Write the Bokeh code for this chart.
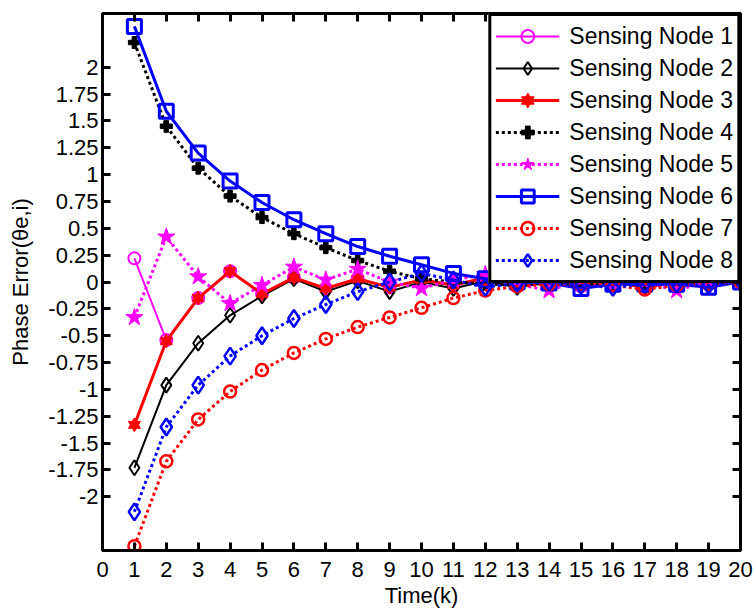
from bokeh.plotting import figure
from bokeh.models import Range1d, FixedTicker, LinearAxis, Legend, LegendItem
from bokeh.embed import file_html
from bokeh.resources import INLINE

# ---- data ----
time_k = list(range(1, 21))
node1 = [0.22, -0.54, -0.15, 0.10, -0.11, 0.04, -0.06, 0.03, -0.05, 0.02, -0.03, 0.03, -0.03, 0.01, -0.04, 0.01, -0.04, 0.00, -0.02, 0.01]
node2 = [-1.73, -0.96, -0.57, -0.31, -0.13, 0.03, -0.09, 0.01, -0.09, 0.00, -0.06, 0.01, -0.05, 0.00, -0.04, 0.00, -0.05, 0.00, -0.03, 0.00]
node3 = [-1.33, -0.55, -0.15, 0.10, -0.11, 0.04, -0.06, 0.03, -0.05, 0.02, -0.03, 0.04, -0.02, 0.01, -0.04, 0.02, -0.06, 0.01, -0.02, 0.02]
node4 = [2.23, 1.45, 1.06, 0.80, 0.60, 0.45, 0.32, 0.20, 0.10, 0.03, 0.00, -0.02, -0.03, -0.01, -0.03, -0.01, -0.02, 0.00, -0.02, 0.00]
node5 = [-0.33, 0.42, 0.05, -0.20, -0.03, 0.14, 0.02, 0.12, 0.00, -0.06, 0.02, 0.07, -0.02, -0.08, 0.02, -0.02, 0.00, -0.08, 0.01, 0.04]
node6 = [2.38, 1.59, 1.20, 0.94, 0.74, 0.58, 0.45, 0.33, 0.24, 0.16, 0.08, 0.03, 0.00, -0.01, -0.06, -0.02, -0.02, -0.02, -0.05, 0.00]
node7 = [-2.46, -1.67, -1.28, -1.02, -0.82, -0.66, -0.53, -0.42, -0.33, -0.24, -0.15, -0.08, -0.04, -0.02, -0.02, -0.03, -0.07, -0.03, -0.02, 0.00]
node8 = [-2.14, -1.35, -0.96, -0.69, -0.50, -0.34, -0.21, -0.09, 0.00, 0.08, 0.02, -0.05, -0.01, 0.00, -0.03, -0.05, -0.02, -0.02, -0.03, 0.01]

series_names = ["Sensing Node 1", "Sensing Node 2", "Sensing Node 3", "Sensing Node 4",
                "Sensing Node 5", "Sensing Node 6", "Sensing Node 7", "Sensing Node 8"]

x_ticks = list(range(0, 21))
y_ticks = [-2, -1.75, -1.5, -1.25, -1, -0.75, -0.5, -0.25, 0, 0.25, 0.5, 0.75, 1, 1.25, 1.5, 1.75, 2]
y_tick_labels = ["-2", "-1.75", "-1.5", "-1.25", "-1", "-0.75", "-0.5", "-0.25", "0",
                 "0.25", "0.5", "0.75", "1", "1.25", "1.5", "1.75", "2"]

FONT = "Liberation Sans"
MAGENTA = "#ff00ff"
RED = "#ff0000"
BLUE = "#0000ff"
BLACK = "#000000"

p = figure(width=755, height=613, x_range=Range1d(0, 20), y_range=Range1d(-2.5, 2.5),
           output_backend="svg", toolbar_location=None,
           min_border_left=102, min_border_right=15, min_border_top=13, min_border_bottom=63)
p.xgrid.visible = False
p.ygrid.visible = False
p.outline_line_color = BLACK
p.outline_line_width = 3
p.background_fill_color = "white"
p.border_fill_color = "white"

# bottom axis
xa = p.xaxis[0]
xa.ticker = FixedTicker(ticks=x_ticks)
xa.axis_label = "Time(k)"
# left axis
ya = p.yaxis[0]
ya.ticker = FixedTicker(ticks=y_ticks)
ya.major_label_overrides = {t: l for t, l in zip(y_ticks, y_tick_labels)}
ya.axis_label = "Phase Error(θe,i)"

for ax in (xa, ya):
    ax.axis_line_width = 3
    ax.axis_line_color = BLACK
    ax.major_tick_in = 8
    ax.major_tick_out = 0
    ax.major_tick_line_width = 3
    ax.major_tick_line_color = BLACK
    ax.minor_tick_line_color = None
    ax.major_label_text_font = FONT
    ax.major_label_text_font_size = "22px"
    ax.major_label_text_color = BLACK
    ax.axis_label_text_font = FONT
    ax.axis_label_text_font_size = "22px"
    ax.axis_label_text_font_style = "normal"
    ax.axis_label_text_color = BLACK
xa.major_label_standoff = 11
xa.axis_label_standoff = 3
ya.major_label_standoff = 4
ya.axis_label_standoff = 12

# top / right axes: ticks only
top = LinearAxis(ticker=FixedTicker(ticks=x_ticks))
right = LinearAxis(ticker=FixedTicker(ticks=y_ticks))
for ax in (top, right):
    ax.axis_line_width = 3
    ax.axis_line_color = BLACK
    ax.major_tick_in = 8
    ax.major_tick_out = 0
    ax.major_tick_line_width = 3
    ax.major_tick_line_color = BLACK
    ax.minor_tick_line_color = None
    ax.major_label_text_font_size = "0px"
    ax.major_label_text_color = None
    ax.major_label_standoff = 0
p.add_layout(top, "above")
p.add_layout(right, "right")

DOT = "3 3"
items = []

# Node 1
l = p.line(time_k, node1, line_color=MAGENTA, line_width=2)
m = p.scatter(time_k, node1, marker="circle", size=12, line_color=MAGENTA, fill_color=None, line_width=2)
items.append(LegendItem(label=series_names[0], renderers=[l, m]))
# Node 2
l = p.line(time_k, node2, line_color=BLACK, line_width=2)
m = p.scatter(time_k, node2, marker="diamond", size=15, line_color=BLACK, fill_color=None, line_width=2)
items.append(LegendItem(label=series_names[1], renderers=[l, m]))
# Node 3 (hexagram = two triangles)
l = p.line(time_k, node3, line_color=RED, line_width=3)
m1 = p.scatter(time_k, node3, marker="triangle", size=12, line_color=RED, fill_color=RED, line_width=1)
m2 = p.scatter(time_k, node3, marker="inverted_triangle", size=12, line_color=RED, fill_color=RED, line_width=1)
items.append(LegendItem(label=series_names[2], renderers=[l, m1, m2]))
# Node 4
l = p.line(time_k, node4, line_color=BLACK, line_width=3, line_dash=DOT)
m = p.scatter(time_k, node4, marker="plus", size=12, line_color=BLACK, fill_color=BLACK, line_width=1)
items.append(LegendItem(label=series_names[3], renderers=[l, m]))
# Node 5
l = p.line(time_k, node5, line_color=MAGENTA, line_width=3, line_dash=DOT)
m = p.scatter(time_k, node5, marker="star", size=18, line_color=MAGENTA, fill_color=MAGENTA, line_width=1)
items.append(LegendItem(label=series_names[4], renderers=[l, m]))
# Node 6
l = p.line(time_k, node6, line_color=BLUE, line_width=3)
m = p.scatter(time_k, node6, marker="square", size=14, line_color=BLUE, fill_color=None, line_width=3)
items.append(LegendItem(label=series_names[5], renderers=[l, m]))
# Node 7
l = p.line(time_k, node7, line_color=RED, line_width=3, line_dash=DOT)
m = p.scatter(time_k, node7, marker="circle", size=12, line_color=RED, fill_color=None, line_width=2.5)
items.append(LegendItem(label=series_names[6], renderers=[l, m]))
# Node 8
l = p.line(time_k, node8, line_color=BLUE, line_width=3, line_dash=DOT)
m = p.scatter(time_k, node8, marker="diamond", size=17, line_color=BLUE, fill_color=None, line_width=2.5)
items.append(LegendItem(label=series_names[7], renderers=[l, m]))

legend = Legend(items=items, location="top_right", margin=0, padding=4, spacing=0,
                glyph_width=64, glyph_height=32, label_standoff=10,
                label_text_font=FONT, label_text_font_size="23px", label_text_color=BLACK,
                border_line_color=BLACK, border_line_width=3, border_line_alpha=1.0,
                background_fill_color="white", background_fill_alpha=1.0)
p.add_layout(legend)

open("out.html", "w").write(file_html(p, INLINE))
